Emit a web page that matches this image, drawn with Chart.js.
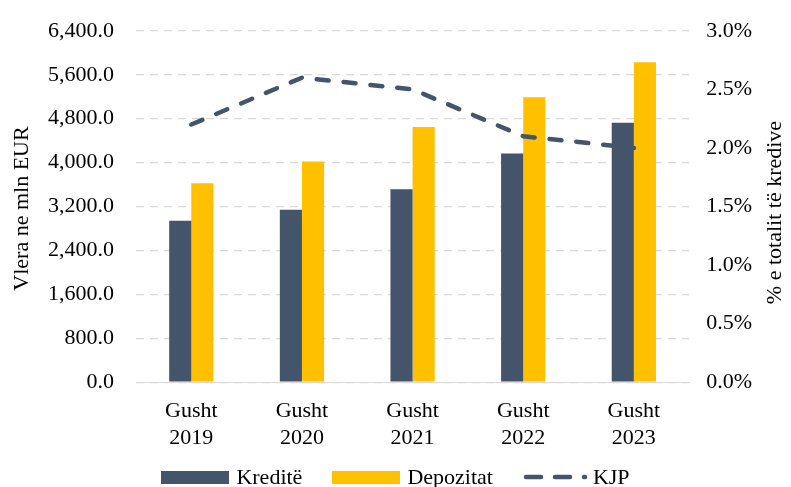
<!DOCTYPE html>
<html>
<head>
<meta charset="utf-8">
<script src="https://cdn.jsdelivr.net/npm/chart.js@4/dist/chart.umd.min.js"></script>
<style>
  body { margin: 0; background: #fff; }
  #wrap { position: relative; width: 791px; height: 487px; }
  #legend {
    position: absolute; left: 0; top: 464px; width: 791px;
    display: flex; justify-content: center; align-items: center;
    font-family: "Liberation Serif", serif; font-size: 22px; color: #000;
  }
  .item { display: flex; align-items: center; margin: 0 15px; }
  .box { width: 68px; height: 13px; margin-right: 7px; }
  .item svg { margin-right: 4px; }
</style>
</head>
<body>
<div id="wrap">
  <canvas id="chart" width="791" height="487"></canvas>
  <div id="legend"></div>
</div>
<script>
const categories = [['Gusht', '2019'], ['Gusht', '2020'], ['Gusht', '2021'], ['Gusht', '2022'], ['Gusht', '2023']];
const kredite = [2940, 3140, 3515, 4165, 4725];
const depozitat = [3625, 4020, 4650, 5190, 5825];
const kjp = [2.2, 2.6, 2.5, 2.1, 2.0];

const navy = '#44546a';
const gold = '#ffc000';
const font = { family: 'Liberation Serif', size: 22 };
const yFont = { family: 'Liberation Serif', size: 22, lineHeight: 0.8 };

// legjenda
const legendEl = document.getElementById('legend');
legendEl.innerHTML =
  '<div class="item"><div class="box" style="background:' + navy + '"></div>Kreditë</div>' +
  '<div class="item"><div class="box" style="background:' + gold + '"></div>Depozitat</div>' +
  '<div class="item"><svg width="66" height="10"><line x1="3" y1="5" x2="62" y2="5" stroke="' + navy +
  '" stroke-width="4.5" stroke-linecap="round" stroke-dasharray="15 14"/></svg>KJP</div>';

// titujt e boshteve, te dy te rrotulluar lart
const axisTitles = {
  id: 'axisTitles',
  afterDraw(chart) {
    const ctx = chart.ctx;
    const a = chart.chartArea;
    const mid = (a.top + a.bottom) / 2;
    ctx.save();
    ctx.fillStyle = '#000';
    ctx.font = '22px "Liberation Serif"';
    ctx.textAlign = 'center';
    ctx.textBaseline = 'middle';
    [[22, mid + 2, 'Vlera ne mln EUR'], [775, mid + 6, '% e totalit të kredive']].forEach(t => {
      ctx.save();
      ctx.translate(t[0], t[1]);
      ctx.rotate(-Math.PI / 2);
      ctx.fillText(t[2], 0, 0);
      ctx.restore();
    });
    ctx.restore();
  }
};

new Chart(document.getElementById('chart'), {
  data: {
    labels: categories,
    datasets: [
      { type: 'bar', label: 'Kreditë', data: kredite, backgroundColor: navy, yAxisID: 'y', order: 2,
        barPercentage: 1, categoryPercentage: 0.4 },
      { type: 'bar', label: 'Depozitat', data: depozitat, backgroundColor: gold, yAxisID: 'y', order: 2,
        barPercentage: 1, categoryPercentage: 0.4 },
      { type: 'line', label: 'KJP', data: kjp, borderColor: navy, borderWidth: 4.5, borderDash: [12, 15],
        borderCapStyle: 'round', pointRadius: 0, fill: false, tension: 0, yAxisID: 'y1', order: 1 }
    ]
  },
  options: {
    responsive: false,
    animation: false,
    layout: { padding: { left: 26, right: 22, top: 11, bottom: 20 } },
    plugins: { legend: { display: false }, tooltip: { enabled: false } },
    scales: {
      x: {
        grid: { display: false, drawTicks: false },
        border: { color: '#d9d9d9' },
        ticks: { color: '#000', font: font, padding: 16, maxRotation: 0 }
      },
      y: {
        position: 'left', min: 0, max: 6400,
        ticks: { stepSize: 800, color: '#000', font: yFont, padding: 22,
          callback: v => v.toLocaleString('en-US', { minimumFractionDigits: 1, maximumFractionDigits: 1 }) },
        grid: { color: '#d9d9d9', lineWidth: 1.3, drawTicks: false },
        border: { display: false, dash: [8, 6] }
      },
      y1: {
        position: 'right', min: 0, max: 3,
        ticks: { stepSize: 0.5, color: '#000', font: yFont, padding: 17,
          callback: v => v.toFixed(1) + '%' },
        grid: { display: false, drawTicks: false },
        border: { display: false }
      }
    }
  },
  plugins: [axisTitles]
});
</script>
</body>
</html>
